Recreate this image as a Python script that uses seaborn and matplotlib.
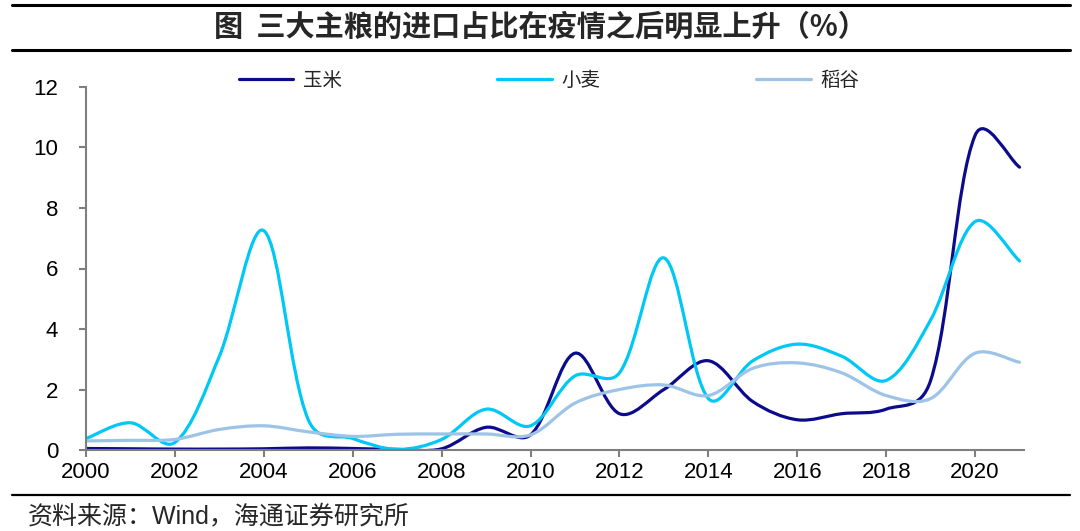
import matplotlib
matplotlib.use('Agg')
import matplotlib.pyplot as plt
from matplotlib.path import Path
from matplotlib.patches import PathPatch
from matplotlib.lines import Line2D
import numpy as np
import pandas as pd
import seaborn as sns

# import share of the three staple grains, %
years = list(range(2000, 2022))
corn = [0.05, 0.04, 0.03, 0.03, 0.04, 0.07, 0.05, 0.02, 0.04, 0.75, 0.5,
        3.2, 1.2, 2.0, 2.95, 1.6, 1.0, 1.2, 1.35, 2.3, 10.4, 9.35]
wheat = [0.38, 0.9, 0.25, 3.1, 7.25, 1.0, 0.38, 0.02, 0.35, 1.35, 0.8,
         2.45, 2.55, 6.35, 1.7, 2.95, 3.5, 3.1, 2.3, 4.3, 7.55, 6.25]
rice = [0.3, 0.32, 0.35, 0.68, 0.8, 0.6, 0.45, 0.52, 0.53, 0.53, 0.5,
        1.55, 2.0, 2.15, 1.8, 2.7, 2.88, 2.55, 1.8, 1.7, 3.2, 2.9]
names = ['玉米', '小麦', '稻谷']
colors = ['#0b0b8c', '#00c8f5', '#9dc3e6']

df = pd.DataFrame({'year': years * 3,
                   'value': corn + wheat + rice,
                   'crop': [n for n in names for _ in years]})

sns.set_theme(style='white')
plt.rcParams['font.family'] = ['Liberation Sans', 'Noto Sans CJK SC', 'DejaVu Sans']
cjk = ['Noto Sans CJK SC', 'Liberation Sans']

# pixel size of one year / one percent, used to weight the smoothing
SX, SY = 44.45, 30.25


def smooth_path(x, y, mix=0.5):
    # excel-like smoothed line: bezier segments through the points,
    # control arms partly scaled by the neighbouring segment lengths
    x = np.asarray(x, float)
    y = np.asarray(y, float)
    n = len(x)
    out_c, in_c = [], []
    for i in range(n):
        a = max(i - 1, 0)
        b = min(i + 1, n - 1)
        tx, ty = x[b] - x[a], y[b] - y[a]
        d1 = np.hypot((x[i] - x[a]) * SX, (y[i] - y[a]) * SY)
        d2 = np.hypot((x[b] - x[i]) * SX, (y[b] - y[i]) * SY)
        tot = d1 + d2
        w2 = (1 - mix) * 0.5 + mix * (d2 / tot if tot else 0)
        w1 = (1 - mix) * 0.5 + mix * (d1 / tot if tot else 0)
        out_c.append((x[i] + tx * w2 / 3, y[i] + ty * w2 / 3))
        in_c.append((x[i] - tx * w1 / 3, y[i] - ty * w1 / 3))
    verts = [(x[0], y[0])]
    codes = [Path.MOVETO]
    for i in range(n - 1):
        verts += [out_c[i], in_c[i + 1], (x[i + 1], y[i + 1])]
        codes += [Path.CURVE4] * 3
    return Path(verts, codes)


fig = plt.figure(figsize=(10.8, 5.31), dpi=100)
ax = fig.add_axes([86 / 1080, 1 - 450 / 531, (1024 - 86) / 1080, (450 - 87) / 531])

for name, color in zip(names, colors):
    sub = df[df['crop'] == name]
    ax.add_patch(PathPatch(smooth_path(sub['year'], sub['value']), facecolor='none',
                           edgecolor=color, lw=2.3, capstyle='round', joinstyle='round'))

ax.set_xlim(2000, 2021.1)
ax.set_ylim(0, 12)
ax.set_xticks(range(2000, 2021, 2))
ax.set_yticks(range(0, 13, 2))
ax.tick_params(axis='both', labelsize=16, colors='#7f7f7f', labelcolor='black',
               direction='out', length=5, width=1.5, left=True, bottom=True)
ax.tick_params(axis='y', pad=15)
ax.tick_params(axis='x', pad=4)
sns.despine(ax=ax)
for s in ['left', 'bottom']:
    ax.spines[s].set_color('#7f7f7f')
    ax.spines[s].set_linewidth(1.5)
ax.set_xlabel('')
ax.set_ylabel('')

handles = [Line2D([], [], color=c, lw=2.3) for c in colors]
fig.legend(handles, names, loc='center', bbox_to_anchor=(549 / 1080, 1 - 80 / 531),
           ncol=3, frameon=False, prop={'family': cjk, 'size': 14},
           handlelength=2.8, handletextpad=0.5, columnspacing=8.0)

fig.text(0.5, 1 - 27 / 531, '图  三大主粮的进口占比在疫情之后明显上升（%）', ha='center',
         va='center', fontsize=21, fontweight='bold', family=cjk)
fig.text(28 / 1080, 1 - 516 / 531, '资料来源：Wind，海通证券研究所', ha='left',
         va='center', fontsize=18, family=['Liberation Sans', 'Noto Sans CJK SC'])

for yy, lw in [(5, 2.2), (50, 2.2), (495, 1.6)]:
    fig.add_artist(Line2D([12 / 1080, 1070 / 1080], [1 - yy / 531] * 2, color='black',
                          lw=lw, transform=fig.transFigure))

fig.savefig('out.png', dpi=100)
